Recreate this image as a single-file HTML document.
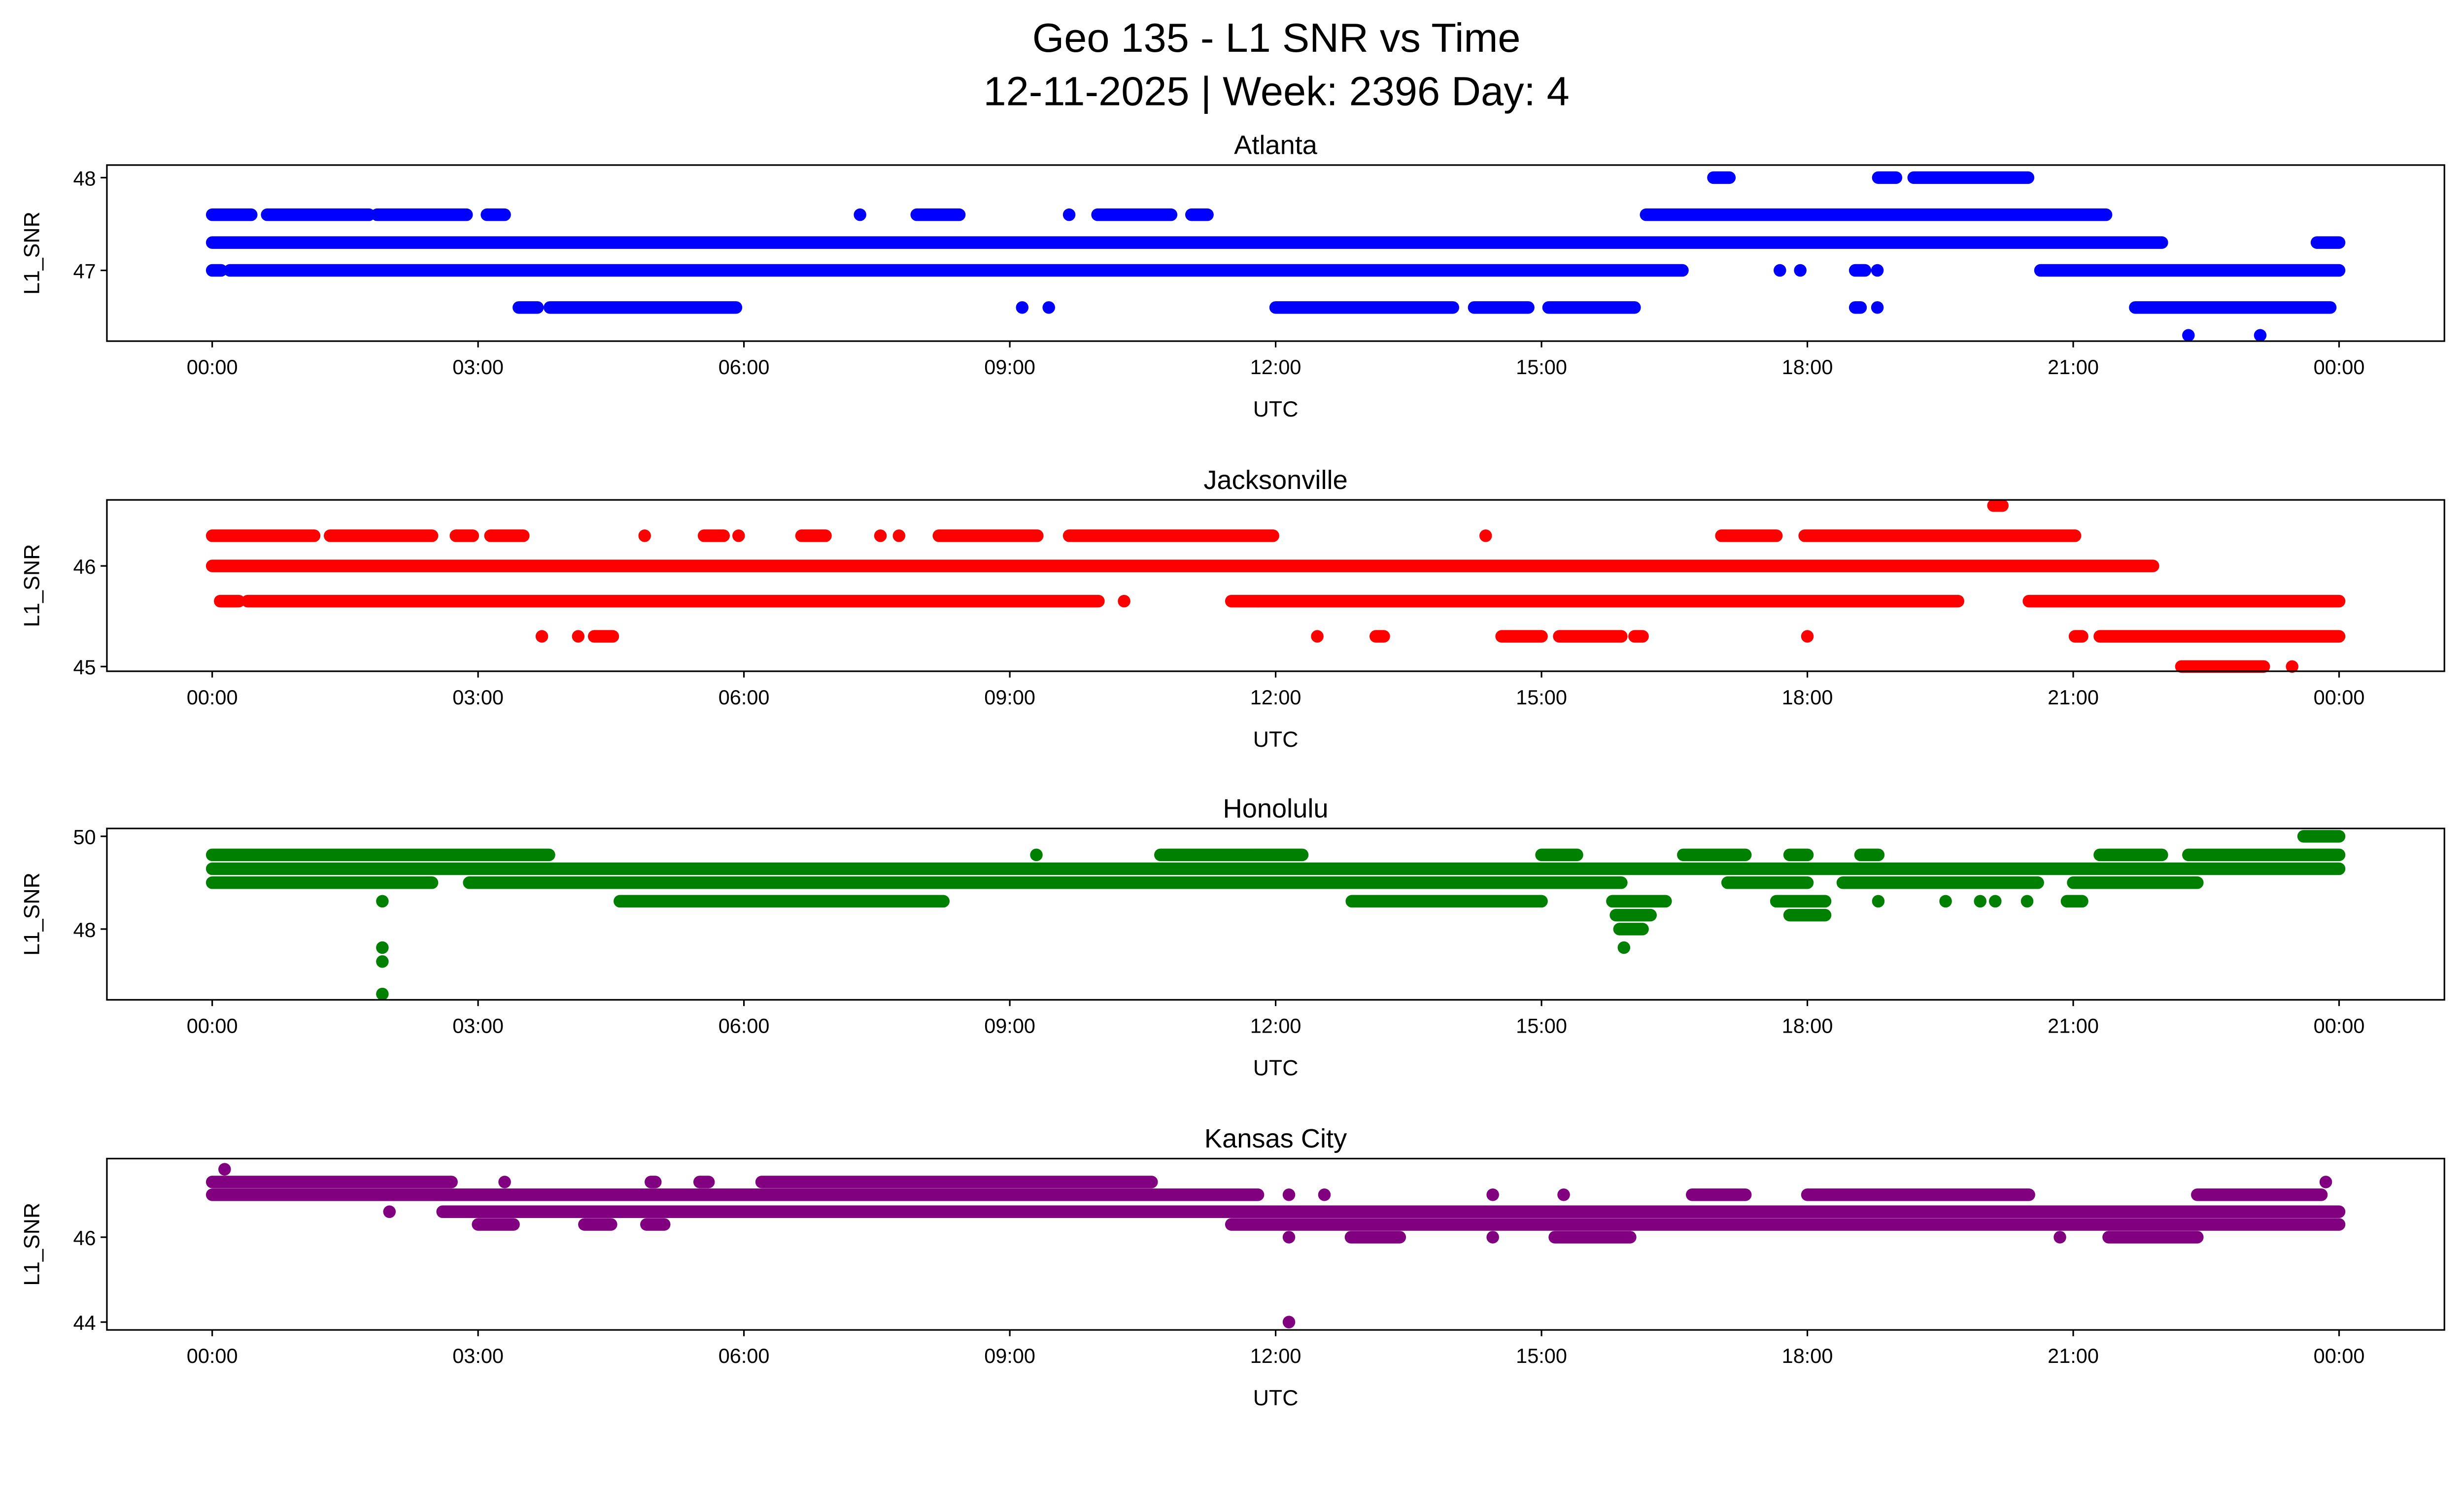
<!DOCTYPE html>
<html><head><meta charset="utf-8"><style>
html,body{margin:0;padding:0;background:#fff}
svg{display:block}
text{font-family:"Liberation Sans","DejaVu Sans",sans-serif;fill:#000}
</style></head><body>
<svg id="chart" width="5225" height="3033" viewBox="0 0 1638 951" preserveAspectRatio="none" xmlns="http://www.w3.org/2000/svg">
<text x="812" y="33" font-size="26" text-anchor="middle">Geo 135 - L1 SNR vs Time</text>
<text x="812" y="67" font-size="26" text-anchor="middle">12-11-2025 | Week: 2396 Day: 4</text>
<g id="panels"></g>
</svg>
<script>
// x tick labels
const xTickLabels = ["00:00","03:00","06:00","09:00","12:00","15:00","18:00","21:00","00:00"];
const xTickHours = [0,3,6,9,12,15,18,21,24];

// Atlanta
const atlLevels = [48, 47.6, 47.3, 47.0, 46.6, 46.3];
const atlRuns = [
  [[16.94,17.12],[18.8,19.0],[19.2,20.49]],
  [[0,0.44],[0.62,1.77],[1.86,2.87],[3.1,3.3],[7.31,7.31],[7.95,8.43],[9.67,9.67],[9.99,10.82],[11.05,11.23],[16.18,21.37]],
  [[0,22.0],[23.75,24]],
  [[0,0.1],[0.2,16.59],[17.69,17.69],[17.92,17.92],[18.54,18.65],[18.79,18.79],[20.63,24]],
  [[3.46,3.67],[3.81,5.91],[9.14,9.14],[9.44,9.44],[12.0,14.0],[14.24,14.85],[15.08,16.05],[18.54,18.6],[18.79,18.79],[21.7,23.9]],
  [[22.3,22.3],[23.11,23.11]]
];
const atlTicks = [47, 48];

// Jacksonville
const jaxLevels = [46.6, 46.3, 46.0, 45.65, 45.3, 45.0];
const jaxRuns = [
  [[20.1,20.2]],
  [[0,1.15],[1.33,2.48],[2.75,2.94],[3.14,3.51],[4.88,4.88],[5.55,5.77],[5.94,5.94],[6.65,6.92],[7.54,7.54],[7.75,7.75],[8.2,9.31],[9.67,11.97],[14.37,14.37],[17.03,17.65],[17.97,21.02]],
  [[0,21.9]],
  [[0.09,0.3],[0.4,10.0],[10.29,10.29],[11.5,11.8],[11.8,19.7],[20.5,24]],
  [[3.72,3.72],[4.13,4.13],[4.31,4.52],[12.47,12.47],[13.13,13.22],[14.55,15.0],[15.2,15.9],[16.05,16.14],[18.0,18.0],[21.02,21.1],[21.3,24]],
  [[22.22,23.15],[23.47,23.47]]
];
const jaxTicks = [45, 46];

// Honolulu
const hnlLevels = [50.0, 49.6, 49.3, 49.0, 48.6, 48.3, 48.0, 47.6, 47.3, 46.6];
const hnlRuns = [
  [[23.6,24]],
  [[0,3.8],[9.3,9.3],[10.7,12.3],[15.0,15.4],[16.6,17.3],[17.8,18.0],[18.6,18.8],[21.3,22.0],[22.3,24]],
  [[0,24]],
  [[0,2.48],[2.9,15.9],[17.1,18.0],[18.4,20.6],[21.0,22.4]],
  [[1.92,1.92],[4.6,8.25],[12.86,15.0],[15.8,16.4],[17.65,18.2],[18.8,18.8],[19.56,19.56],[19.95,19.95],[20.12,20.12],[20.48,20.48],[20.93,21.1]],
  [[15.84,16.23],[17.8,18.2]],
  [[15.88,16.14]],
  [[1.92,1.92],[15.93,15.93]],
  [[1.92,1.92]],
  [[1.92,1.92]]
];
const hnlTicks = [48, 50];

// Kansas City
const kcLevels = [47.6, 47.3, 47.0, 46.6, 46.3, 46.0, 44.0];
const kcRuns = [
  [[0.14,0.14]],
  [[0,2.7],[3.3,3.3],[4.95,5.0],[5.5,5.6],[6.2,10.6],[23.85,23.85]],
  [[0,11.8],[12.15,12.15],[12.55,12.55],[14.45,14.45],[15.25,15.25],[16.7,17.3],[18.0,20.5],[22.4,23.8]],
  [[2.0,2.0],[2.6,24]],
  [[3.0,3.4],[4.2,4.5],[4.9,5.1],[11.5,24]],
  [[12.15,12.15],[12.85,13.4],[14.45,14.45],[15.15,16.0],[20.85,20.85],[21.4,22.4]],
  [[12.15,12.15]]
];
const kcTicks = [44, 46];

const panels = [
  {name:"atlanta", title:"Atlanta", color:"#0000ff", top:105, bottom:217, v0:47, y0:172, ppu:59, levels:atlLevels, runs:atlRuns, ticks:atlTicks},
  {name:"jacksonville", title:"Jacksonville", color:"#ff0000", top:318, bottom:427, v0:46, y0:360, ppu:64, levels:jaxLevels, runs:jaxRuns, ticks:jaxTicks},
  {name:"honolulu", title:"Honolulu", color:"#008000", top:527, bottom:636, v0:50, y0:532, ppu:29.5, levels:hnlLevels, runs:hnlRuns, ticks:hnlTicks},
  {name:"kansas-city", title:"Kansas City", color:"#800080", top:737, bottom:846, v0:46, y0:787, ppu:27, levels:kcLevels, runs:kcRuns, ticks:kcTicks}
];
const NS = "http://www.w3.org/2000/svg";
const L = 68, R = 1555;
function xScale(h){ return 135 + h * (1353/24); }
const root = document.getElementById("panels");
function mk(tag, attrs, parent){
  const e = document.createElementNS(NS, tag);
  for (const k in attrs) e.setAttribute(k, attrs[k]);
  parent.appendChild(e);
  return e;
}
panels.forEach(p => {
  const g = mk("g", {}, root);
  
  
  const yScale = v => p.y0 - (v - p.v0) * p.ppu;
  const t = mk("text", {x:(L+R)/2, y:p.top-7, "font-size":17, "text-anchor":"middle"}, g);
  t.textContent = p.title;
  
  
  const marks = mk("g", {fill:p.color, stroke:p.color}, g);
  
  
  p.levels.forEach((lv, i) => {
    const y = yScale(lv);
    p.runs[i].forEach(r => {
      if (r[0] === r[1]) {
        const c = mk("circle", {cx:xScale(r[0]), cy:y, r:4, stroke:"none"}, marks);
        
        
      } else {
        const ln = mk("line", {x1:xScale(r[0]), x2:xScale(r[1]), y1:y, y2:y, "stroke-width":8, "stroke-linecap":"round"}, marks);
        
        
      }
    });
  });
  const box = mk("rect", {x:L, y:p.top, width:R-L, height:p.bottom-p.top, fill:"none", stroke:"#000", "stroke-width":1}, g);
  
  
  xTickHours.forEach((h, i) => {
    const x = xScale(h);
    mk("line", {x1:x, x2:x, y1:p.bottom, y2:p.bottom+4, stroke:"#000", "stroke-width":1}, g);
    const tl = mk("text", {x:x, y:p.bottom+21, "font-size":13, "text-anchor":"middle"}, g);
    tl.textContent = xTickLabels[i];
    
    
  });
  p.ticks.forEach(v => {
    const y = yScale(v);
    mk("line", {x1:L-4, x2:L, y1:y, y2:y, stroke:"#000", "stroke-width":1}, g);
    const tl = mk("text", {x:L-7, y:y+5, "font-size":13, "text-anchor":"end"}, g);
    tl.textContent = String(v);
    
    
  });
  const xl = mk("text", {x:(L+R)/2, y:p.bottom+48, "font-size":14, "text-anchor":"middle"}, g);
  xl.textContent = "UTC";
  
  
  const cy = (p.top+p.bottom)/2;
  const yl = mk("text", {x:0, y:0, "font-size":14, "text-anchor":"middle", transform:`translate(25,${cy}) rotate(-90)`}, g);
  yl.textContent = "L1_SNR";
  
  
});
</script>
</body></html>
